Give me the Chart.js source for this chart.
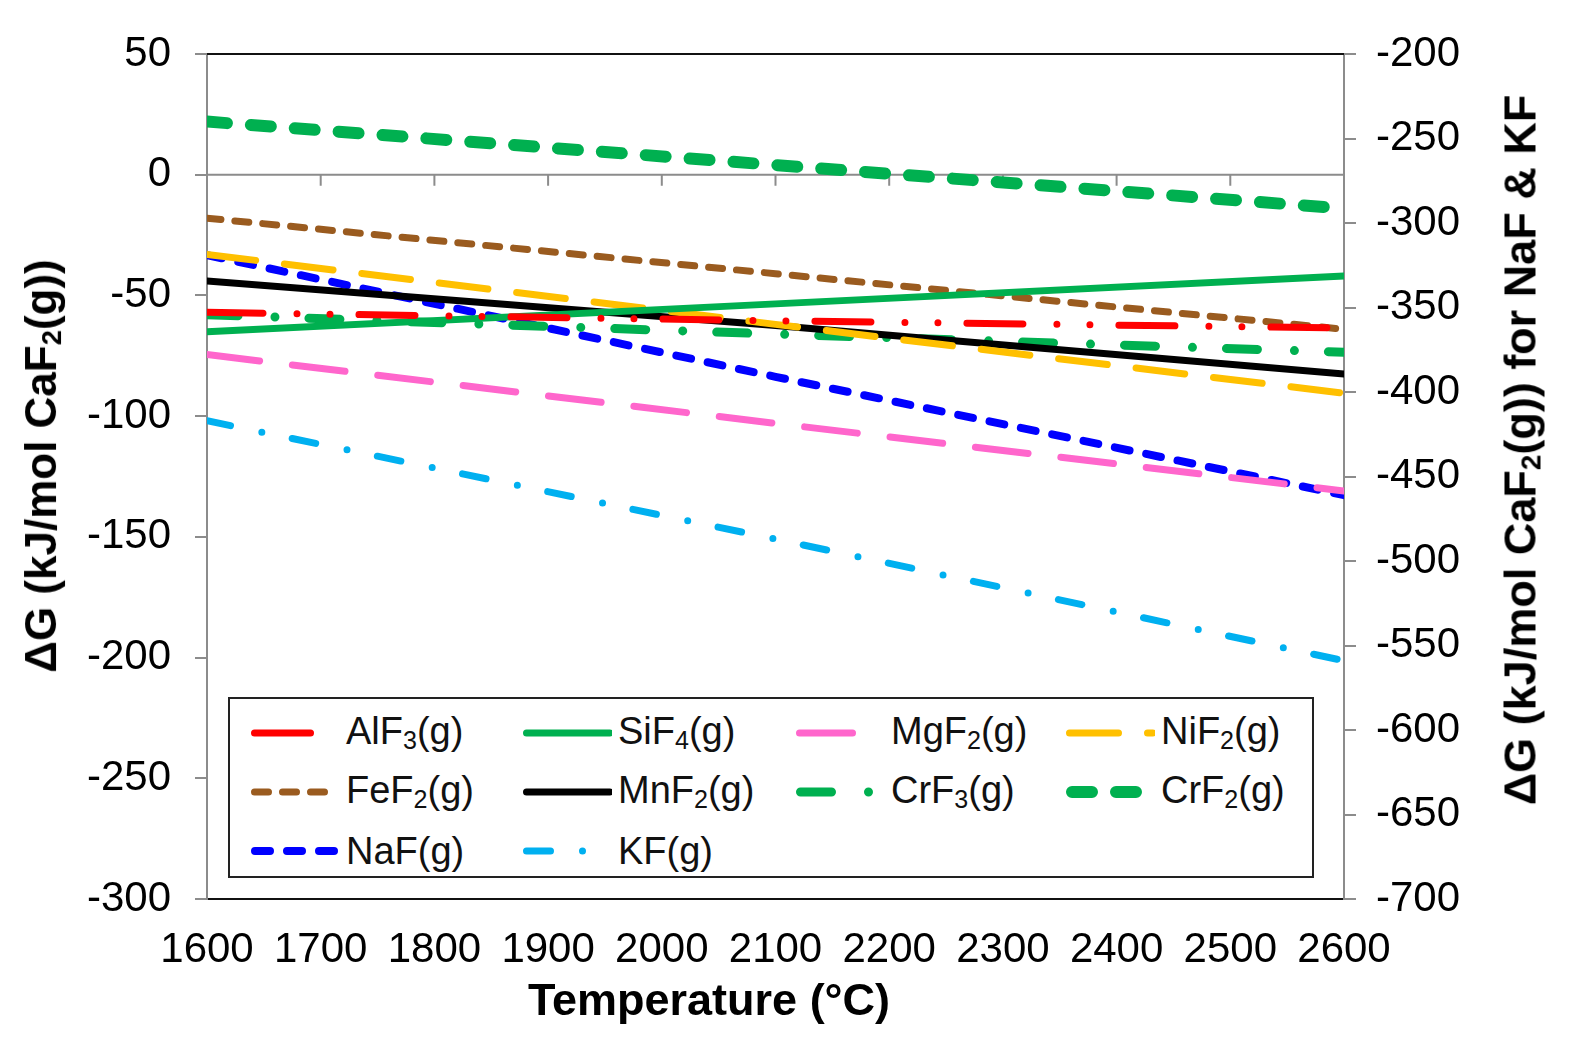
<!DOCTYPE html>
<html>
<head>
<meta charset="utf-8">
<script src="https://cdn.jsdelivr.net/npm/chart.js@4.4.1/dist/chart.umd.min.js"></script>
<style>
  body { margin: 0; background: #fff; font-family: "Liberation Sans", Arial, sans-serif; }
  #wrap { position: relative; width: 1577px; height: 1051px; overflow: hidden; }
  canvas { position: absolute; left: 0; top: 0; }
  .ytitle { position: absolute; font-weight: bold; white-space: nowrap; color: #000;
            transform: translate(-50%, -50%) rotate(-90deg); }
  .ytitle sub { font-size: 0.62em; vertical-align: -0.18em; }
  .xtitle { position: absolute; font-weight: bold; white-space: nowrap; color: #000;
            transform: translate(-50%, -50%); }
  #legend { position: absolute; left: 228px; top: 697px; width: 1082px; height: 177px;
            border: 2px solid #222; background: #fff; }
  .item { position: absolute; height: 50px; display: flex; align-items: center; font-size: 38px; color: #111; white-space: nowrap; }
  .item svg { margin-right: 6px; }
  .item sub { font-size: 0.66em; vertical-align: -0.2em; }
</style>
</head>
<body>
<div id="wrap">
  <canvas id="c" width="1577" height="1051"></canvas>
  <div class="ytitle" style="left:42px; top:466px; font-size:44px;">&Delta;G (kJ/mol CaF<sub>2</sub>(g))</div>
  <div class="ytitle" style="left:1521px; top:450px; font-size:45px;">&Delta;G (kJ/mol CaF<sub>2</sub>(g)) for NaF &amp; KF</div>
  <div class="xtitle" style="left:709px; top:1000px; font-size:45px;">Temperature (°C)</div>
  <div id="legend"></div>
</div>
<script>
// temperature (°C) at which values were read
const temps = [1600, 2100, 2600];

// ΔG on the left axis
const alf3 = [-57, -60.5, -63.5];
const sif4 = [-65, -53.5, -42];
const mgf2 = [-74.5, -103, -131];
const nif2 = [-33, -62, -90.5];
const fef2 = [-18, -41, -64];
const mnf2 = [-44, -62.5, -82.5];
const crf3 = [-58, -66, -73.5];
const crf2 = [22, 4, -14];
// ΔG on the right axis
const naf = [-319, -391, -461];
const kf = [-417, -487, -559];

const seriesNames = ['AlF3(g)', 'SiF4(g)', 'MgF2(g)', 'NiF2(g)', 'FeF2(g)', 'MnF2(g)', 'CrF3(g)', 'CrF2(g)', 'NaF(g)', 'KF(g)'];
const seriesValues = [alf3, sif4, mgf2, nif2, fef2, mnf2, crf3, crf2, naf, kf];

const xTicks = [1600, 1700, 1800, 1900, 2000, 2100, 2200, 2300, 2400, 2500, 2600];
const leftTicks = [50, 0, -50, -100, -150, -200, -250, -300];
const rightTicks = [-200, -250, -300, -350, -400, -450, -500, -550, -600, -650, -700];

const styles = [
  { color: '#FF0000', width: 7, dash: [56, 34, 0, 33, 0, 29], axis: 'y' },
  { color: '#00B050', width: 7, dash: [], axis: 'y' },
  { color: '#FF66CC', width: 7, dash: [53, 33], axis: 'y' },
  { color: '#FFC000', width: 7, dash: [49, 29], axis: 'y' },
  { color: '#9A5B1F', width: 7, dash: [14, 14], axis: 'y' },
  { color: '#000000', width: 7, dash: [], axis: 'y' },
  { color: '#00B050', width: 9, dash: [31, 37, 0, 34], axis: 'y' },
  { color: '#00B050', width: 12, dash: [20, 24], axis: 'y' },
  { color: '#0000FF', width: 8, dash: [15, 17], axis: 'y2' },
  { color: '#00B0F0', width: 7, dash: [24, 32, 0, 31], axis: 'y2' }
];

const datasets = seriesNames.map((name, i) => ({
  label: name,
  data: temps.map((t, j) => ({ x: t, y: seriesValues[i][j] })),
  yAxisID: styles[i].axis,
  borderColor: styles[i].color,
  borderWidth: styles[i].width,
  borderDash: styles[i].dash,
  borderCapStyle: 'round',
  pointRadius: 0,
  tension: 0,
  fill: false
}));

const tickFont = { family: '"Liberation Sans", Arial, sans-serif', size: 42 };

// zero line with the x ticks hanging from it, plus the top border
const framePlugin = {
  id: 'frame',
  beforeDatasetsDraw(chart) {
    const { ctx, chartArea, scales } = chart;
    const y0 = scales.y.getPixelForValue(0);
    ctx.save();
    ctx.strokeStyle = '#8c8c8c';
    ctx.lineWidth = 2;
    ctx.beginPath();
    ctx.moveTo(chartArea.left, y0);
    ctx.lineTo(chartArea.right, y0);
    xTicks.forEach(t => {
      const x = scales.x.getPixelForValue(t);
      ctx.moveTo(x, y0);
      ctx.lineTo(x, y0 + 11);
    });
    ctx.stroke();
    ctx.restore();
  },
  afterDraw(chart) {
    const { ctx, chartArea } = chart;
    ctx.save();
    ctx.strokeStyle = '#111';
    ctx.lineWidth = 2;
    ctx.beginPath();
    ctx.moveTo(chartArea.left, chartArea.top);
    ctx.lineTo(chartArea.right, chartArea.top);
    ctx.stroke();
    ctx.restore();
  }
};

new Chart(document.getElementById('c'), {
  type: 'line',
  data: { datasets },
  plugins: [framePlugin],
  options: {
    responsive: false,
    animation: false,
    layout: { padding: { top: 54, bottom: 0, left: 0, right: 0 } },
    plugins: { legend: { display: false }, tooltip: { enabled: false } },
    scales: {
      x: {
        type: 'linear', min: 1600, max: 2600,
        afterBuildTicks: s => { s.ticks = xTicks.map(v => ({ value: v })); },
        afterFit: s => { s.height = 152; },
        grid: { display: false },
        border: { display: true, color: '#111', width: 2 },
        ticks: { font: tickFont, color: '#000', padding: 18, maxRotation: 0, autoSkip: false, callback: v => String(v) },
        title: { display: false }
      },
      y: {
        position: 'left', min: -300, max: 50,
        afterBuildTicks: s => { s.ticks = leftTicks.map(v => ({ value: v })); },
        afterFit: s => { s.width = 207; },
        grid: { drawOnChartArea: false, drawTicks: true, tickLength: 12, color: '#8c8c8c', lineWidth: 2 },
        border: { display: true, color: '#8c8c8c', width: 2 },
        ticks: { font: tickFont, color: '#000', padding: 24 }
      },
      y2: {
        position: 'right', min: -700, max: -200,
        afterBuildTicks: s => { s.ticks = rightTicks.map(v => ({ value: v })); },
        afterFit: s => { s.width = 233; },
        grid: { drawOnChartArea: false, drawTicks: true, tickLength: 12, color: '#8c8c8c', lineWidth: 2 },
        border: { display: true, color: '#8c8c8c', width: 2 },
        ticks: { font: tickFont, color: '#000', padding: 20 }
      }
    }
  }
});

// legend with subscripts, built from the dataset styles
const legend = document.getElementById('legend');
const colX = [20, 292, 565, 835];
const rowY = [9, 68, 127];
seriesNames.forEach((name, i) => {
  const st = styles[i];
  const el = document.createElement('div');
  el.className = 'item';
  el.style.left = colX[i % 4] + 'px';
  el.style.top = rowY[Math.floor(i / 4)] + 'px';
  const dash = st.dash.length ? st.dash.join(' ') : 'none';
  el.innerHTML =
    `<svg width="90" height="20"><line x1="${st.width / 2 + 1}" y1="10" x2="88" y2="10" stroke="${st.color}"
       stroke-width="${st.width}" stroke-linecap="round" stroke-dasharray="${dash}"/></svg>` +
    `<span>${name.replace(/(\d)/g, '<sub>$1</sub>')}</span>`;
  legend.appendChild(el);
});
</script>
</body>
</html>
